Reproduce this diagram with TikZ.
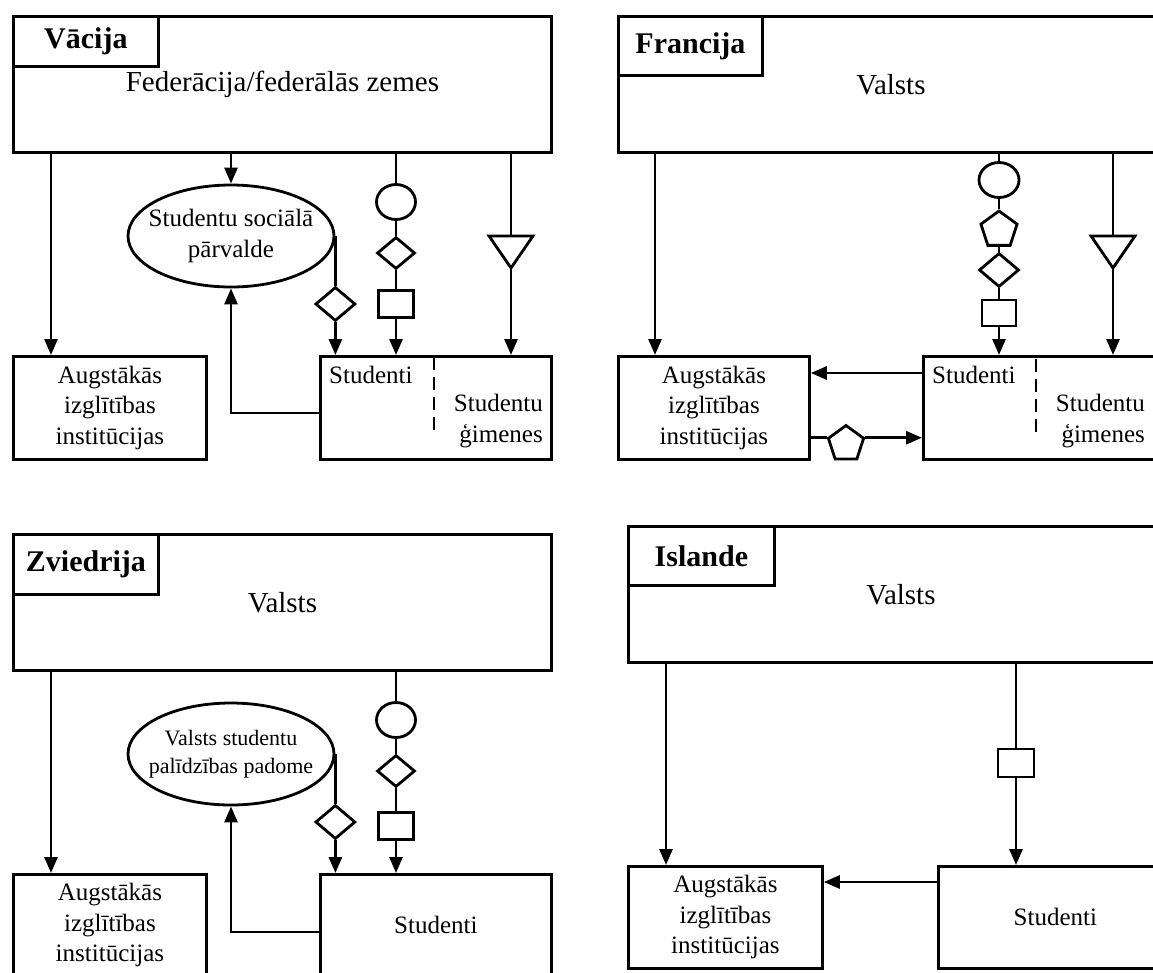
\documentclass[tikz,border=0pt]{standalone}
\usepackage{fontspec}
\setmainfont{Liberation Serif}
\usetikzlibrary{arrows.meta, shapes.geometric}
\tikzset{
  box/.style={draw, line width=2.8pt, inner sep=0pt, anchor=north west, align=center},
  mk/.style={draw, line width=2.8pt, inner sep=0pt},
  ln/.style={line width=2.8pt},
  arr/.style={line width=2.8pt, -{Triangle[length=16pt, width=13pt]}},
  dsh/.style={line width=2.8pt, dash pattern=on 13pt off 7pt},
  big/.style={font=\fontsize{29}{34}\selectfont},
  txt/.style={font=\fontsize{25}{30.5}\selectfont, inner sep=0pt},
  lbl/.style={font=\bfseries\fontsize{30}{36}\selectfont},
}
\begin{document}
\begin{tikzpicture}[x=1pt, y=-1pt]
\useasboundingbox (0,0) rectangle (1153,972);
\clip (0,0) rectangle (1153,972);

\node[box, big, minimum width=538pt, minimum height=136pt] (deState) at (12,15) {Federācija/federālās zemes};
\node[box, lbl, minimum width=145pt, minimum height=50pt] (deTag) at (12,15) {Vācija};
\node[box, txt, minimum width=193pt, minimum height=103pt] (deHEI) at (12,355) {Augstākās\\izglītības\\institūcijas};
\node[box, minimum width=231pt, minimum height=103pt] (deStud) at (319,355) {};
\node[txt, anchor=west] (deStudT) at (329,375) {Studenti};
\node[txt, anchor=east, align=right] (deFamT) at (543,421) {Studentu\\ģimenes};
\node[mk, ellipse, minimum width=206pt, minimum height=102pt] (deAdmin) at (231,236) {};
\node[txt, align=center] (deAdminT) at (deAdmin) {Studentu sociālā\\pārvalde};
\node[mk, diamond, minimum width=40pt, minimum height=34pt] (deDiaA) at (deAdmin.east |- 0,304) {};
\node[mk, ellipse, minimum width=39pt, minimum height=35pt] (deCirc) at (396,202) {};
\node[mk, diamond, minimum width=38pt, minimum height=32pt] (deDia) at (396,253) {};
\node[mk, minimum width=35pt, minimum height=27pt] (deSq) at (396,304) {};
\coordinate (deTri) at (511,236);
\coordinate (deTriTip) at (511,268);
\draw[ln] (deTri) ++(-22,0) -- ++(44,0) -- (deTriTip) -- cycle;
\draw[arr] ([xshift=39pt]deState.south west) -- ([xshift=39pt]deHEI.north west);
\draw[arr] (deState.south -| deAdmin) -- (deAdmin.north);
\draw[ln] (deAdmin.east) -- (deDiaA.north);
\draw[arr] (deDiaA.south) -- (deStud.north -| deDiaA);
\draw[ln] (deState.south -| deCirc) -- (deCirc.north);
\draw[ln] (deCirc.south) -- (deDia.north);
\draw[ln] (deDia.south) -- (deSq.north);
\draw[arr] (deSq.south) -- (deStud.north -| deSq);
\draw[ln] (deState.south -| deTri) -- (deTri);
\draw[arr] (deTriTip) -- (deStud.north -| deTriTip);
\draw[arr] ([yshift=-58pt]deStud.north west) -| (deAdmin.south);
\draw[dsh] (434,357) -- (434,430);

\node[box, big, minimum width=545pt, minimum height=136pt] (frState) at (617,15) {Valsts};
\node[box, lbl, minimum width=144pt, minimum height=59pt] (frTag) at (617,15) {Francija};
\node[box, txt, minimum width=191pt, minimum height=103pt] (frHEI) at (617,355) {Augstākās\\izglītības\\institūcijas};
\node[box, minimum width=240pt, minimum height=103pt] (frStud) at (922,355) {};
\node[txt, anchor=west] (frStudT) at (932,375) {Studenti};
\node[txt, anchor=east, align=right] (frFamT) at (1145,421) {Studentu\\ģimenes};
\node[mk, ellipse, minimum width=40pt, minimum height=35pt] (frCirc) at (999,180) {};
\node[mk, regular polygon, regular polygon sides=5, minimum size=38pt] (frPent) at (999,230) {};
\node[mk, diamond, minimum width=40pt, minimum height=34pt] (frDia) at (999,270) {};
\node[mk, minimum width=34pt, minimum height=26pt] (frSq) at (999,313) {};
\node[mk, regular polygon, regular polygon sides=5, minimum size=37pt] (frPentB) at (846,444) {};
\coordinate (frTri) at (1113,236);
\coordinate (frTriTip) at (1113,268);
\draw[ln] (frTri) ++(-22,0) -- ++(44,0) -- (frTriTip) -- cycle;
\draw[arr] ([xshift=38pt]frState.south west) -- ([xshift=38pt]frHEI.north west);
\draw[ln] (frState.south -| frCirc) -- (frCirc.north);
\draw[ln] (frCirc.south) -- (frPent.north);
\draw[ln] (frPent.south) -- (frDia.north);
\draw[ln] (frDia.south) -- (frSq.north);
\draw[arr] (frSq.south) -- (frStud.north -| frSq);
\draw[ln] (frState.south -| frTri) -- (frTri);
\draw[arr] (frTriTip) -- (frStud.north -| frTriTip);
\draw[arr] ([yshift=-18pt]frStud.north west) -- ([yshift=-18pt]frHEI.north east);
\draw[ln] (frHEI.east |- frPentB.corner 2) -- (frPentB.corner 2);
\draw[arr] (frPentB.corner 5) -- (frStud.west |- frPentB.corner 5);
\draw[dsh] (1036,359) -- (1036,432);

\node[box, big, minimum width=538pt, minimum height=136pt] (seState) at (12,533) {Valsts};
\node[box, lbl, minimum width=145pt, minimum height=60pt] (seTag) at (12,533) {Zviedrija};
\node[box, txt, minimum width=193pt, minimum height=102pt] (seHEI) at (12,873) {Augstākās\\izglītības\\institūcijas};
\node[box, txt, minimum width=231pt, minimum height=101pt] (seStud) at (319,873) {Studenti};
\node[mk, ellipse, minimum width=206pt, minimum height=102pt] (seBoard) at (231,754) {};
\node[txt, align=center, font=\fontsize{22}{28}\selectfont] (seBoardT) at (seBoard) {Valsts studentu\\palīdzības padome};
\node[mk, diamond, minimum width=40pt, minimum height=34pt] (seDiaA) at (seBoard.east |- 0,822) {};
\node[mk, ellipse, minimum width=39pt, minimum height=35pt] (seCirc) at (396,720) {};
\node[mk, diamond, minimum width=38pt, minimum height=32pt] (seDia) at (396,771) {};
\node[mk, minimum width=35pt, minimum height=27pt] (seSq) at (396,826) {};
\draw[arr] ([xshift=39pt]seState.south west) -- ([xshift=39pt]seHEI.north west);
\draw[ln] (seBoard.east) -- (seDiaA.north);
\draw[arr] (seDiaA.south) -- (seStud.north -| seDiaA);
\draw[ln] (seState.south -| seCirc) -- (seCirc.north);
\draw[ln] (seCirc.south) -- (seDia.north);
\draw[ln] (seDia.south) -- (seSq.north);
\draw[arr] (seSq.south) -- (seStud.north -| seSq);
\draw[arr] ([yshift=-59pt]seStud.north west) -| (seBoard.south);

\node[box, big, minimum width=545pt, minimum height=136pt] (isState) at (627,525) {Valsts};
\node[box, lbl, minimum width=146pt, minimum height=59pt] (isTag) at (627,525) {Islande};
\node[box, txt, minimum width=194pt, minimum height=102pt] (isHEI) at (627,865) {Augstākās\\izglītības\\institūcijas};
\node[box, txt, minimum width=234pt, minimum height=102pt] (isStud) at (937,865) {Studenti};
\node[mk, minimum width=36pt, minimum height=28pt] (isSq) at (1016,763) {};
\draw[arr] ([xshift=39pt]isState.south west) -- ([xshift=39pt]isHEI.north west);
\draw[ln] (isState.south -| isSq) -- (isSq.north);
\draw[arr] (isSq.south) -- (isStud.north -| isSq);
\draw[arr] ([yshift=-17pt]isStud.north west) -- ([yshift=-17pt]isHEI.north east);
\end{tikzpicture}
\end{document}
